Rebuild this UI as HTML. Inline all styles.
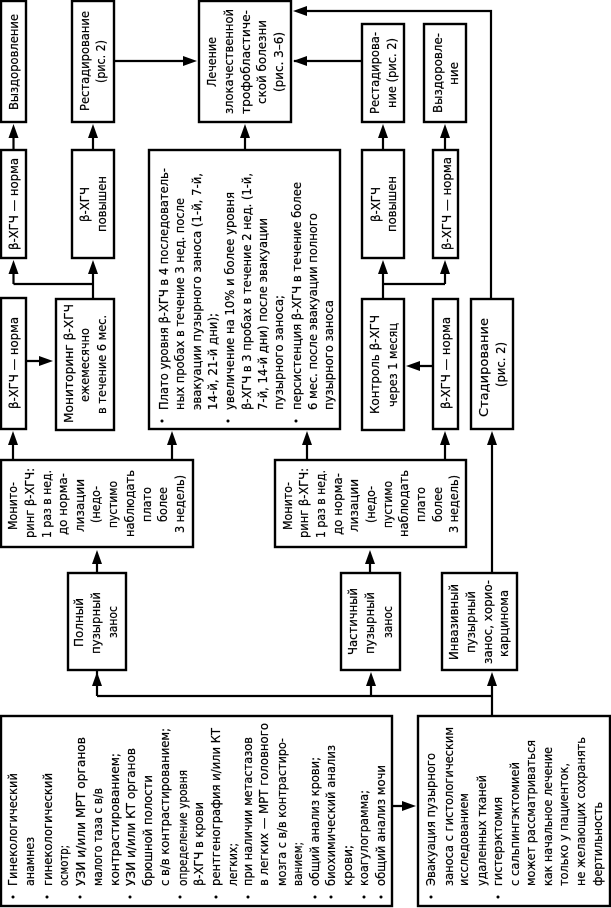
<!DOCTYPE html>
<html><head><meta charset="utf-8"><style>
html,body{margin:0;padding:0;background:#fff;width:611px;height:908px;overflow:hidden}
svg{display:block}
text{font-family:"DejaVu Sans","Liberation Sans",sans-serif;font-size:12px;fill:#000;stroke:#000;stroke-width:.2}
rect{fill:#fff;stroke:#000;stroke-width:2.4}
path{fill:none;stroke:#000;stroke-width:2.2}
polygon{fill:#000}
circle{fill:#000}
</style></head><body>
<svg xmlns="http://www.w3.org/2000/svg" width="611" height="908" viewBox="0 0 611 908">
<!-- connectors -->
<path d="M13.5 150V130M93 150V130M93 298V265M13.5 284H93M13.5 284V265M114 61H190M245 150V130M294 61H362M300 11H491V298M26 361H46M13 460V436M172 460V436M97 573V555M97 670V680M97 696V678M97 696H491M371 696V678M492 716V678M370 573V555M307 460V436M445 460V436M492 573V436M383 299V265M383 284H445M445 284V265M383 150V130M445 150V130M433 366H412M392 806H408"/>
<polygon points="13.5,124 8.5,138 18.5,138"/>
<polygon points="93,124 88,138 98,138"/>
<polygon points="13.5,260 8.5,274 18.5,274"/>
<polygon points="93,260 88,274 98,274"/>
<polygon points="197,61 183,56 183,66"/>
<polygon points="245,124 240,138 250,138"/>
<polygon points="293,61 307,56 307,66"/>
<polygon points="293,11 307,6 307,16"/>
<polygon points="383,124 378,138 388,138"/>
<polygon points="445,124 440,138 450,138"/>
<polygon points="383,260 378,274 388,274"/>
<polygon points="445,260 440,274 450,274"/>
<polygon points="53,361 39,356 39,366"/>
<polygon points="406,366 420,361 420,371"/>
<polygon points="13,431 8,445 18,445"/>
<polygon points="172,431 167,445 177,445"/>
<polygon points="307,431 302,445 312,445"/>
<polygon points="445,431 440,445 450,445"/>
<polygon points="492,431 487,445 497,445"/>
<polygon points="97,550 92,564 102,564"/>
<polygon points="370,550 365,564 375,564"/>
<polygon points="97,672 92,686 102,686"/>
<polygon points="371,672 366,686 376,686"/>
<polygon points="492,672 487,686 497,686"/>
<polygon points="416,806 402,801 402,811"/>
<!-- boxes -->
<rect x="1" y="1" width="25" height="121"/>
<rect x="1" y="150" width="25" height="108"/>
<rect x="72" y="1" width="42" height="121"/>
<rect x="72" y="150" width="42" height="108"/>
<rect x="199" y="1" width="92" height="121"/>
<rect x="149" y="150" width="191" height="279"/>
<rect x="362" y="24" width="42" height="98"/>
<rect x="424" y="24" width="42" height="98"/>
<rect x="362" y="150" width="42" height="108"/>
<rect x="433" y="150" width="25" height="108"/>
<rect x="1" y="298" width="25" height="131"/>
<rect x="56" y="299" width="58" height="131"/>
<rect x="362" y="299" width="42" height="131"/>
<rect x="433" y="299" width="25" height="130"/>
<rect x="471" y="299" width="42" height="130"/>
<rect x="1" y="460" width="192" height="87"/>
<rect x="275" y="460" width="191" height="87"/>
<rect x="68" y="573" width="58" height="97"/>
<rect x="341" y="573" width="59" height="97"/>
<rect x="442" y="573" width="75" height="97"/>
<rect x="1" y="716" width="391" height="190"/>
<rect x="418" y="716" width="192" height="190"/>
<!-- text -->
<text transform="translate(18,110) rotate(-90)" textLength="96" lengthAdjust="spacingAndGlyphs">Выздоровление</text>
<text transform="translate(18,250) rotate(-90)" textLength="92" lengthAdjust="spacingAndGlyphs">β-ХГЧ — норма</text>
<text transform="translate(89,111) rotate(-90)" textLength="100" lengthAdjust="spacingAndGlyphs">Рестадирование</text>
<text transform="translate(105,83) rotate(-90)" textLength="43" lengthAdjust="spacingAndGlyphs">(рис. 2)</text>
<text transform="translate(89,222) rotate(-90)" textLength="35" lengthAdjust="spacingAndGlyphs">β-ХГЧ</text>
<text transform="translate(106,232) rotate(-90)" textLength="56" lengthAdjust="spacingAndGlyphs">повышен</text>
<text transform="translate(216,87) rotate(-90)" textLength="50" lengthAdjust="spacingAndGlyphs">Лечение</text>
<text transform="translate(233,114) rotate(-90)" textLength="105" lengthAdjust="spacingAndGlyphs">злокачественной</text>
<text transform="translate(250,114) rotate(-90)" textLength="104" lengthAdjust="spacingAndGlyphs">трофобластиче-</text>
<text transform="translate(266,104) rotate(-90)" textLength="84" lengthAdjust="spacingAndGlyphs">ской болезни</text>
<text transform="translate(283,92) rotate(-90)" textLength="60" lengthAdjust="spacingAndGlyphs">(рис. 3–6)</text>
<circle cx="162" cy="421" r="1.5"/><circle cx="228" cy="421" r="1.5"/><circle cx="296" cy="421" r="1.5"/>
<text transform="translate(168,410) rotate(-90)" textLength="242" lengthAdjust="spacingAndGlyphs">Плато уровня β-ХГЧ в 4 последователь-</text>
<text transform="translate(184,410) rotate(-90)" textLength="212" lengthAdjust="spacingAndGlyphs">ных пробах в течение 3 нед. после</text>
<text transform="translate(201,410) rotate(-90)" textLength="237" lengthAdjust="spacingAndGlyphs">эвакуации пузырного заноса (1-й, 7-й,</text>
<text transform="translate(217,410) rotate(-90)" textLength="97" lengthAdjust="spacingAndGlyphs">14-й, 21-й дни);</text>
<text transform="translate(234,410) rotate(-90)" textLength="218" lengthAdjust="spacingAndGlyphs">увеличение на 10% и более уровня</text>
<text transform="translate(251,410) rotate(-90)" textLength="237" lengthAdjust="spacingAndGlyphs">β-ХГЧ в 3 пробах в течение 2 нед. (1-й,</text>
<text transform="translate(267,410) rotate(-90)" textLength="192" lengthAdjust="spacingAndGlyphs">7-й, 14-й дни) после эвакуации</text>
<text transform="translate(283,410) rotate(-90)" textLength="115" lengthAdjust="spacingAndGlyphs">пузырного заноса;</text>
<text transform="translate(301,410) rotate(-90)" textLength="228" lengthAdjust="spacingAndGlyphs">персистенция β-ХГЧ в течение более</text>
<text transform="translate(317,410) rotate(-90)" textLength="197" lengthAdjust="spacingAndGlyphs">6 мес. после эвакуации полного</text>
<text transform="translate(333,410) rotate(-90)" textLength="110" lengthAdjust="spacingAndGlyphs">пузырного заноса</text>
<text transform="translate(379,114) rotate(-90)" textLength="82" lengthAdjust="spacingAndGlyphs">Рестадирова-</text>
<text transform="translate(396,108) rotate(-90)" textLength="70" lengthAdjust="spacingAndGlyphs">ние (рис. 2)</text>
<text transform="translate(442,113) rotate(-90)" textLength="80" lengthAdjust="spacingAndGlyphs">Выздоровле-</text>
<text transform="translate(458,85) rotate(-90)" textLength="23" lengthAdjust="spacingAndGlyphs">ние</text>
<text transform="translate(380,222) rotate(-90)" textLength="35" lengthAdjust="spacingAndGlyphs">β-ХГЧ</text>
<text transform="translate(396,232) rotate(-90)" textLength="56" lengthAdjust="spacingAndGlyphs">повышен</text>
<text transform="translate(451,250) rotate(-90)" textLength="93" lengthAdjust="spacingAndGlyphs">β-ХГЧ — норма</text>
<text transform="translate(379,414) rotate(-90)" textLength="99" lengthAdjust="spacingAndGlyphs">Контроль β-ХГЧ</text>
<text transform="translate(397,407) rotate(-90)" textLength="84" lengthAdjust="spacingAndGlyphs">через 1 месяц</text>
<text transform="translate(450,409) rotate(-90)" textLength="92" lengthAdjust="spacingAndGlyphs">β-ХГЧ — норма</text>
<text transform="translate(488,417) rotate(-90)" textLength="99" lengthAdjust="spacingAndGlyphs">Стадирование</text>
<text transform="translate(505,387) rotate(-90)" textLength="45" lengthAdjust="spacingAndGlyphs">(рис. 2)</text>
<text transform="translate(18,409) rotate(-90)" textLength="92" lengthAdjust="spacingAndGlyphs">β-ХГЧ — норма</text>
<text transform="translate(73,423) rotate(-90)" textLength="119" lengthAdjust="spacingAndGlyphs">Мониторинг β-ХГЧ</text>
<text transform="translate(89,402) rotate(-90)" textLength="74" lengthAdjust="spacingAndGlyphs">ежемесячно</text>
<text transform="translate(106,414) rotate(-90)" textLength="99" lengthAdjust="spacingAndGlyphs">в течение 6 мес.</text>
<text transform="translate(17,530) rotate(-90)" textLength="48" lengthAdjust="spacingAndGlyphs">Монито-</text>
<text transform="translate(34,538) rotate(-90)" textLength="70" lengthAdjust="spacingAndGlyphs">ринг β-ХГЧ:</text>
<text transform="translate(51,538) rotate(-90)" textLength="68" lengthAdjust="spacingAndGlyphs">1 раз в нед.</text>
<text transform="translate(67,535) rotate(-90)" textLength="62" lengthAdjust="spacingAndGlyphs">до норма-</text>
<text transform="translate(84,532) rotate(-90)" textLength="53" lengthAdjust="spacingAndGlyphs">лизации</text>
<text transform="translate(100,523) rotate(-90)" textLength="37" lengthAdjust="spacingAndGlyphs">(недо-</text>
<text transform="translate(117,528) rotate(-90)" textLength="47" lengthAdjust="spacingAndGlyphs">пустимо</text>
<text transform="translate(134,537) rotate(-90)" textLength="67" lengthAdjust="spacingAndGlyphs">наблюдать</text>
<text transform="translate(151,522) rotate(-90)" textLength="35" lengthAdjust="spacingAndGlyphs">плато</text>
<text transform="translate(167,522) rotate(-90)" textLength="35" lengthAdjust="spacingAndGlyphs">более</text>
<text transform="translate(184,533) rotate(-90)" textLength="58" lengthAdjust="spacingAndGlyphs">3 недель)</text>
<text transform="translate(292,530) rotate(-90)" textLength="48" lengthAdjust="spacingAndGlyphs">Монито-</text>
<text transform="translate(308,538) rotate(-90)" textLength="70" lengthAdjust="spacingAndGlyphs">ринг β-ХГЧ:</text>
<text transform="translate(325,538) rotate(-90)" textLength="68" lengthAdjust="spacingAndGlyphs">1 раз в нед.</text>
<text transform="translate(342,535) rotate(-90)" textLength="62" lengthAdjust="spacingAndGlyphs">до норма-</text>
<text transform="translate(358,532) rotate(-90)" textLength="53" lengthAdjust="spacingAndGlyphs">лизации</text>
<text transform="translate(375,523) rotate(-90)" textLength="37" lengthAdjust="spacingAndGlyphs">(недо-</text>
<text transform="translate(392,528) rotate(-90)" textLength="47" lengthAdjust="spacingAndGlyphs">пустимо</text>
<text transform="translate(408,537) rotate(-90)" textLength="67" lengthAdjust="spacingAndGlyphs">наблюдать</text>
<text transform="translate(425,522) rotate(-90)" textLength="35" lengthAdjust="spacingAndGlyphs">плато</text>
<text transform="translate(442,522) rotate(-90)" textLength="35" lengthAdjust="spacingAndGlyphs">более</text>
<text transform="translate(458,533) rotate(-90)" textLength="58" lengthAdjust="spacingAndGlyphs">3 недель)</text>
<text transform="translate(83,647) rotate(-90)" textLength="49" lengthAdjust="spacingAndGlyphs">Полный</text>
<text transform="translate(100,654) rotate(-90)" textLength="62" lengthAdjust="spacingAndGlyphs">пузырный</text>
<text transform="translate(117,638) rotate(-90)" textLength="32" lengthAdjust="spacingAndGlyphs">занос</text>
<text transform="translate(357,655) rotate(-90)" textLength="67" lengthAdjust="spacingAndGlyphs">Частичный</text>
<text transform="translate(374,654) rotate(-90)" textLength="62" lengthAdjust="spacingAndGlyphs">пузырный</text>
<text transform="translate(392,638) rotate(-90)" textLength="32" lengthAdjust="spacingAndGlyphs">занос</text>
<text transform="translate(458,660) rotate(-90)" textLength="76" lengthAdjust="spacingAndGlyphs">Инвазивный</text>
<text transform="translate(475,653) rotate(-90)" textLength="62" lengthAdjust="spacingAndGlyphs">пузырный</text>
<text transform="translate(492,664) rotate(-90)" textLength="84" lengthAdjust="spacingAndGlyphs">занос, хорио-</text>
<text transform="translate(508,657) rotate(-90)" textLength="67" lengthAdjust="spacingAndGlyphs">карцинома</text>
<circle cx="13" cy="897" r="1.5"/><circle cx="47" cy="897" r="1.5"/><circle cx="80" cy="897" r="1.5"/><circle cx="130" cy="897" r="1.5"/><circle cx="180" cy="897" r="1.5"/><circle cx="216" cy="897" r="1.5"/><circle cx="248" cy="897" r="1.5"/><circle cx="315" cy="897" r="1.5"/><circle cx="331" cy="897" r="1.5"/><circle cx="364" cy="897" r="1.5"/><circle cx="381" cy="897" r="1.5"/><circle cx="431" cy="897" r="1.5"/><circle cx="498" cy="897" r="1.5"/>
<text transform="translate(17,886) rotate(-90)" textLength="113" lengthAdjust="spacingAndGlyphs">Гинекологический</text>
<text transform="translate(34,886) rotate(-90)" textLength="49" lengthAdjust="spacingAndGlyphs">анамнез</text>
<text transform="translate(52,886) rotate(-90)" textLength="113" lengthAdjust="spacingAndGlyphs">гинекологический</text>
<text transform="translate(68,886) rotate(-90)" textLength="41" lengthAdjust="spacingAndGlyphs">осмотр;</text>
<text transform="translate(85,886) rotate(-90)" textLength="149" lengthAdjust="spacingAndGlyphs">УЗИ и/или МРТ органов</text>
<text transform="translate(102,886) rotate(-90)" textLength="98" lengthAdjust="spacingAndGlyphs">малого таза с в/в</text>
<text transform="translate(119,886) rotate(-90)" textLength="133" lengthAdjust="spacingAndGlyphs">контрастированием;</text>
<text transform="translate(135,886) rotate(-90)" textLength="138" lengthAdjust="spacingAndGlyphs">УЗИ и/или КТ органов</text>
<text transform="translate(152,886) rotate(-90)" textLength="111" lengthAdjust="spacingAndGlyphs">брюшной полости</text>
<text transform="translate(169,886) rotate(-90)" textLength="158" lengthAdjust="spacingAndGlyphs">с в/в контрастированием;</text>
<text transform="translate(187,886) rotate(-90)" textLength="116" lengthAdjust="spacingAndGlyphs">определение уровня</text>
<text transform="translate(203,886) rotate(-90)" textLength="84" lengthAdjust="spacingAndGlyphs">β-ХГЧ в крови</text>
<text transform="translate(220,886) rotate(-90)" textLength="158" lengthAdjust="spacingAndGlyphs">рентгенография и/или КТ</text>
<text transform="translate(237,886) rotate(-90)" textLength="43" lengthAdjust="spacingAndGlyphs">легких;</text>
<text transform="translate(252,886) rotate(-90)" textLength="149" lengthAdjust="spacingAndGlyphs">при наличии метастазов</text>
<text transform="translate(268,886) rotate(-90)" textLength="163" lengthAdjust="spacingAndGlyphs">в легких — МРТ головного</text>
<text transform="translate(286,886) rotate(-90)" textLength="148" lengthAdjust="spacingAndGlyphs">мозга с в/в контрастиро-</text>
<text transform="translate(302,886) rotate(-90)" textLength="44" lengthAdjust="spacingAndGlyphs">ванием;</text>
<text transform="translate(319,886) rotate(-90)" textLength="129" lengthAdjust="spacingAndGlyphs">общий анализ крови;</text>
<text transform="translate(335,886) rotate(-90)" textLength="141" lengthAdjust="spacingAndGlyphs">биохимический анализ</text>
<text transform="translate(352,886) rotate(-90)" textLength="41" lengthAdjust="spacingAndGlyphs">крови;</text>
<text transform="translate(368,886) rotate(-90)" textLength="96" lengthAdjust="spacingAndGlyphs">коагулограмма;</text>
<text transform="translate(385,886) rotate(-90)" textLength="121" lengthAdjust="spacingAndGlyphs">общий анализ мочи</text>
<text transform="translate(435,886) rotate(-90)" textLength="133" lengthAdjust="spacingAndGlyphs">Эвакуация пузырного</text>
<text transform="translate(453,886) rotate(-90)" textLength="159" lengthAdjust="spacingAndGlyphs">заноса с гистологическим</text>
<text transform="translate(468,886) rotate(-90)" textLength="93" lengthAdjust="spacingAndGlyphs">исследованием</text>
<text transform="translate(486,886) rotate(-90)" textLength="111" lengthAdjust="spacingAndGlyphs">удаленных тканей</text>
<text transform="translate(502,886) rotate(-90)" textLength="89" lengthAdjust="spacingAndGlyphs">гистерэктомия</text>
<text transform="translate(519,886) rotate(-90)" textLength="124" lengthAdjust="spacingAndGlyphs">с сальпингэктомией</text>
<text transform="translate(535,886) rotate(-90)" textLength="146" lengthAdjust="spacingAndGlyphs">может рассматриваться</text>
<text transform="translate(552,886) rotate(-90)" textLength="139" lengthAdjust="spacingAndGlyphs">как начальное лечение</text>
<text transform="translate(568,886) rotate(-90)" textLength="123" lengthAdjust="spacingAndGlyphs">только у пациенток,</text>
<text transform="translate(585,886) rotate(-90)" textLength="149" lengthAdjust="spacingAndGlyphs">не желающих сохранять</text>
<text transform="translate(602,886) rotate(-90)" textLength="84" lengthAdjust="spacingAndGlyphs">фертильность</text>
</svg>
</body></html>
